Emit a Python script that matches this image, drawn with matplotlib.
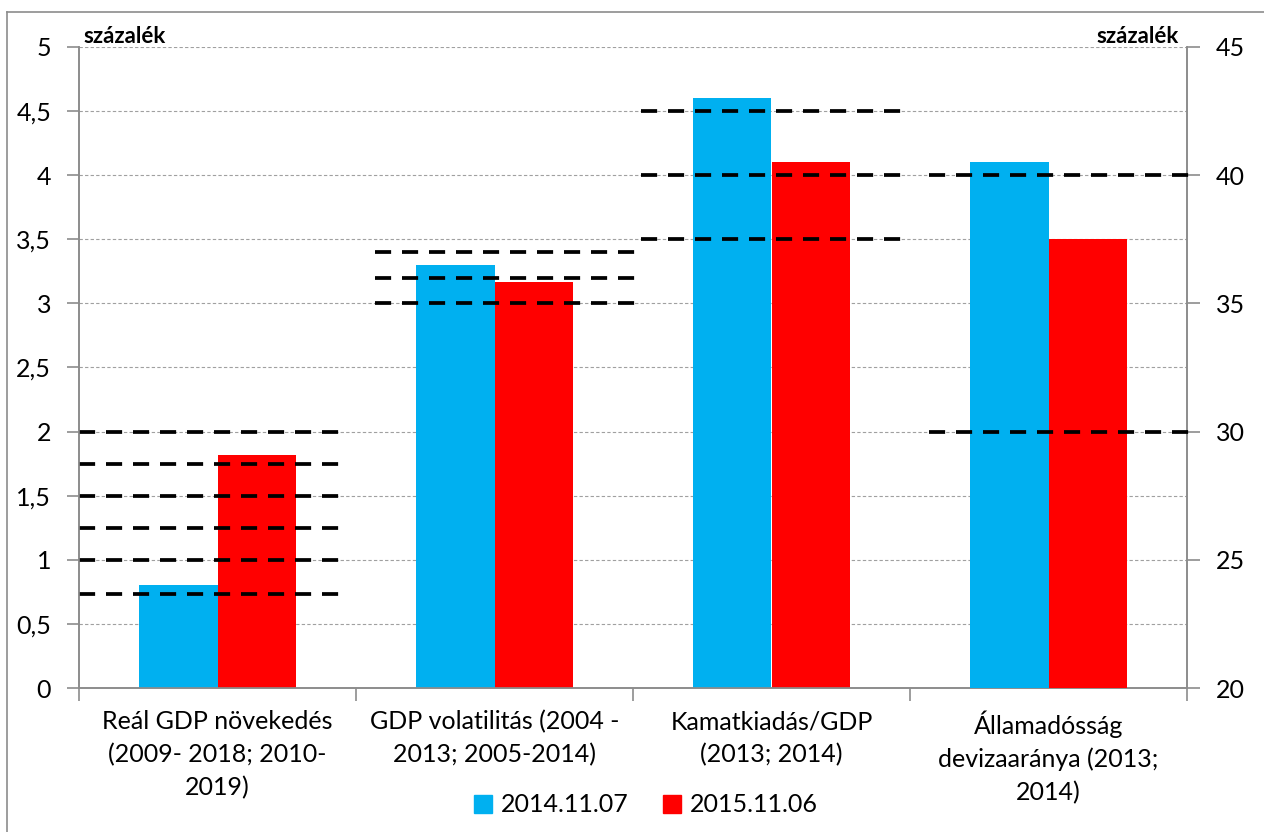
import matplotlib
matplotlib.use('Agg')
import matplotlib.pyplot as plt
from matplotlib.lines import Line2D
from matplotlib.patches import Rectangle
import numpy as np

plt.rcParams['font.family'] = ['Lato', 'DejaVu Sans']

# --- data ---
categories = ['Reál GDP növekedés\n(2009- 2018; 2010-\n2019)',
              'GDP volatilitás (2004 -\n2013; 2005-2014)',
              'Kamatkiadás/GDP\n(2013; 2014)',
              'Államadósság\ndevizaaránya (2013;\n2014)']
series_names = ['2014.11.07', '2015.11.06']
vals_2014 = [0.80, 3.30, 4.60, 40.5]   # last one on right axis
vals_2015 = [1.82, 3.17, 4.10, 37.5]
# dashed reference levels per category (last one on right axis)
levels_gdp = [0.73, 1.0, 1.25, 1.5, 1.75, 2.0]
levels_vol = [3.0, 3.2, 3.4]
levels_int = [3.5, 4.0, 4.5]
levels_fx = [30, 40]
left_ticks = [0, 0.5, 1, 1.5, 2, 2.5, 3, 3.5, 4, 4.5, 5]
right_ticks = [20, 25, 30, 35, 40, 45]

BLUE = '#00B0F0'
RED = '#FF0000'
AXC = '#8c8c8c'
FS = 18

W, H = 1264, 832
fig = plt.figure(figsize=(W / 100, H / 100), dpi=100)
ax = fig.add_axes([79 / W, 1 - 688 / H, (1187 - 79) / W, (688 - 47) / H])
ax2 = ax.twinx()

x = np.arange(len(categories))
bw = 0.285

# bars: first three on left axis, last on right axis
ax.bar(x[:3] - bw / 2, vals_2014[:3], bw, color=BLUE, zorder=3)
ax.bar(x[:3] + bw / 2, vals_2015[:3], bw, color=RED, zorder=3)
ax2.bar(x[3] - bw / 2, vals_2014[3], bw, color=BLUE, zorder=3)
ax2.bar(x[3] + bw / 2, vals_2015[3], bw, color=RED, zorder=3)

# dashed reference lines
spans = [(-0.5, 0.44), (-0.43, 0.51), (-0.47, 0.48), (-0.43, 0.52)]
dash = dict(color='black', lw=2.7, dashes=(4.3, 2.9), zorder=5, clip_on=False)
for i, lv in enumerate([levels_gdp, levels_vol, levels_int]):
    for y in lv:
        ax.plot([x[i] + spans[i][0], x[i] + spans[i][1]], [y, y], **dash)
for y in levels_fx:
    ax2.plot([x[3] + spans[3][0], x[3] + spans[3][1]], [y, y], **dash)

# axes
ax.set_xlim(-0.5, 3.5)
ax.set_ylim(0, 5)
ax2.set_ylim(20, 45)
ax.set_yticks(left_ticks)
ax.set_yticklabels([f'{t:g}'.replace('.', ',') for t in left_ticks], fontsize=FS)
ax2.set_yticks(right_ticks)
ax2.set_yticklabels([str(t) for t in right_ticks], fontsize=FS)
ax.yaxis.grid(True, color='#a0a0a0', ls=(0, (3, 2)), lw=0.8, zorder=0)
ax.set_axisbelow(True)

ax.set_xticks(x)
ax.set_xticklabels(categories, fontsize=FS, linespacing=1.5)
ax.tick_params(axis='x', length=0, pad=16)
# category separator ticks
ax.set_xticks(np.arange(-0.5, 4.0, 1.0), minor=True)
ax.tick_params(axis='x', which='minor', length=9, color=AXC, width=1.2)
ax.tick_params(axis='y', length=9, color=AXC, width=1.2, pad=11)
ax2.tick_params(axis='y', length=9, color=AXC, width=1.2, pad=12)

for a in (ax, ax2):
    a.spines['top'].set_visible(False)
    for s in ('left', 'right', 'bottom'):
        a.spines[s].set_color(AXC)
        a.spines[s].set_linewidth(1.2)

ax.text(0.004, 1.0, 'százalék', transform=ax.transAxes, fontsize=16,
        fontweight='bold', ha='left', va='bottom')
ax.text(0.9925, 1.0, 'százalék', transform=ax.transAxes, fontsize=16,
        fontweight='bold', ha='right', va='bottom')

# legend
handles = [Rectangle((0, 0), 1, 1, color=BLUE), Rectangle((0, 0), 1, 1, color=RED)]
fig.legend(handles, series_names, loc='center', bbox_to_anchor=(646 / W, 1 - 805 / H),
           ncol=2, frameon=False, fontsize=FS, handlelength=0.7, handleheight=0.7,
           handletextpad=0.35, columnspacing=1.4)

# chart-area border (left and top visible)
fig.add_artist(Line2D([7 / W, 7 / W], [0, 1 - 12 / H], color=AXC, lw=1.2))
fig.add_artist(Line2D([7 / W, 1], [1 - 12 / H, 1 - 12 / H], color=AXC, lw=1.2))

fig.savefig('out.png', dpi=100, facecolor='white')
